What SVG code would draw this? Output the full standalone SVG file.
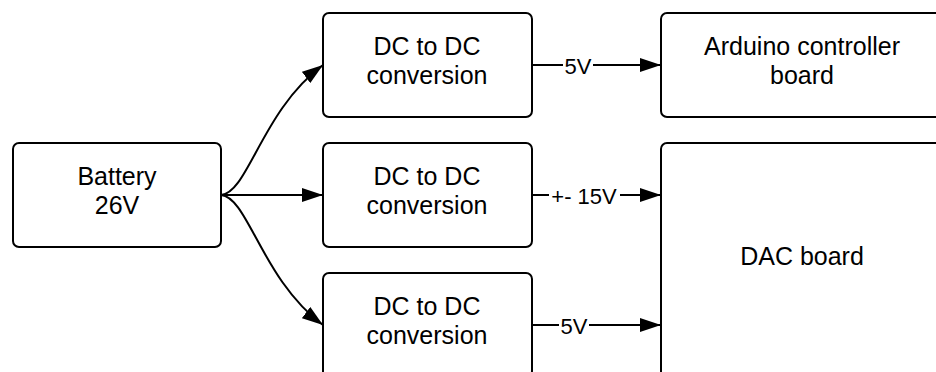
<svg xmlns="http://www.w3.org/2000/svg" width="936" height="372" viewBox="0 0 936 372">
  <style>
    .box { fill: #fff; stroke: #000; stroke-width: 2; }
    .t { font-family: "Liberation Sans", Arial, sans-serif; font-size: 25px; fill: #000; text-anchor: middle; }
    .lbl { font-family: "Liberation Sans", Arial, sans-serif; font-size: 22px; fill: #000; text-anchor: middle; }
    .wire { fill: none; stroke: #000; stroke-width: 2; }
    .bg { fill: #fff; }
  </style>
  <defs>
    <marker id="arrow" markerUnits="userSpaceOnUse" markerWidth="21" markerHeight="14" refX="21" refY="7" orient="auto">
      <path d="M0,0 L21,7 L0,14 z" fill="#000"/>
    </marker>
  </defs>
  <rect width="936" height="372" fill="#fff"/>

  <g id="connectors">
    <path class="wire" d="M221,195 C248,193 262,110 323,65" marker-end="url(#arrow)"/>
    <path class="wire" d="M221,195 L323,195" marker-end="url(#arrow)"/>
    <path class="wire" d="M221,195 C248,197 262,280 323,325" marker-end="url(#arrow)"/>
    <path class="wire" d="M532,65 L661,65" marker-end="url(#arrow)"/>
    <path class="wire" d="M532,195 L661,195" marker-end="url(#arrow)"/>
    <path class="wire" d="M532,325 L661,325" marker-end="url(#arrow)"/>
    <rect class="bg" x="563" y="55" width="30" height="20"/>
    <text class="lbl" x="578" y="73.5">5V</text>
    <rect class="bg" x="549" y="185" width="71" height="20"/>
    <text class="lbl" x="584" y="203.5">+- 15V</text>
    <rect class="bg" x="559" y="315" width="30" height="20"/>
    <text class="lbl" x="574" y="333.5">5V</text>
  </g>

  <g id="battery">
    <rect class="box" x="13" y="143" width="208" height="104" rx="6"/>
    <text class="t" x="117" y="185">Battery</text>
    <text class="t" x="117" y="214">26V</text>
  </g>
  <g id="dcdc1">
    <rect class="box" x="323" y="13" width="209" height="104" rx="6"/>
    <text class="t" x="427" y="55">DC to DC</text>
    <text class="t" x="427" y="84">conversion</text>
  </g>
  <g id="dcdc2">
    <rect class="box" x="323" y="143" width="209" height="104" rx="6"/>
    <text class="t" x="427" y="185">DC to DC</text>
    <text class="t" x="427" y="214">conversion</text>
  </g>
  <g id="dcdc3">
    <rect class="box" x="323" y="273" width="209" height="104" rx="6"/>
    <text class="t" x="427" y="315">DC to DC</text>
    <text class="t" x="427" y="344">conversion</text>
  </g>
  <g id="arduino">
    <rect class="box" x="661" y="13" width="282" height="104" rx="6"/>
    <text class="t" x="802" y="55">Arduino controller</text>
    <text class="t" x="802" y="84">board</text>
  </g>
  <g id="dac">
    <rect class="box" x="661" y="143" width="282" height="234" rx="6"/>
    <text class="t" x="802" y="265">DAC board</text>
  </g>
</svg>
